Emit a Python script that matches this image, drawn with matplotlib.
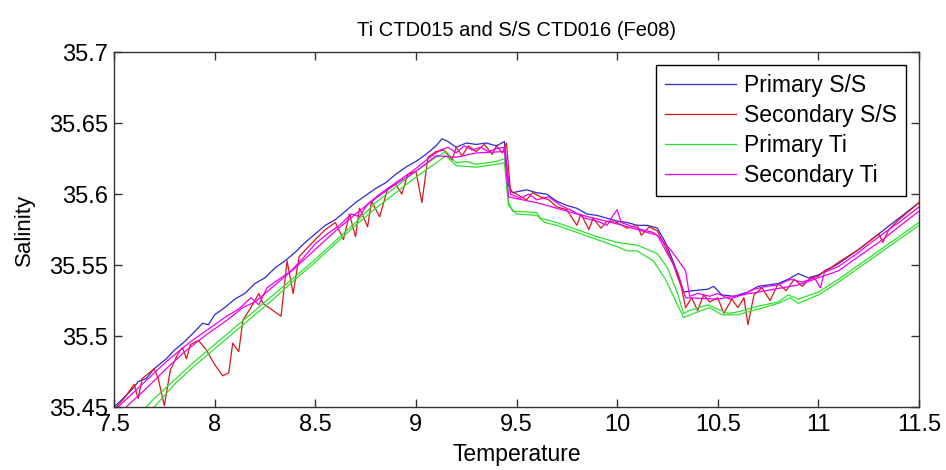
import matplotlib
matplotlib.use('Agg')
import matplotlib.pyplot as plt

# data: (temperature, salinity) pairs per trace
prim_ss = [(7.50, 35.450), (7.56, 35.458), (7.60, 35.464), (7.62, 35.468), (7.66, 35.470),
           (7.70, 35.477), (7.76, 35.484), (7.80, 35.490), (7.85, 35.496), (7.90, 35.503),
           (7.94, 35.509), (7.97, 35.508), (8.00, 35.515), (8.05, 35.520), (8.10, 35.526),
           (8.15, 35.530), (8.20, 35.537), (8.25, 35.541), (8.30, 35.548), (8.35, 35.553),
           (8.40, 35.559), (8.45, 35.566), (8.50, 35.572), (8.55, 35.578), (8.60, 35.582),
           (8.65, 35.588), (8.70, 35.594), (8.75, 35.599), (8.80, 35.604), (8.85, 35.608),
           (8.90, 35.614), (8.95, 35.619), (9.00, 35.623), (9.05, 35.628), (9.10, 35.634),
           (9.13, 35.639), (9.16, 35.637), (9.20, 35.633), (9.25, 35.636), (9.30, 35.635),
           (9.35, 35.636), (9.40, 35.634), (9.44, 35.637), (9.46, 35.606), (9.48, 35.601),
           (9.55, 35.603), (9.60, 35.601), (9.65, 35.600), (9.70, 35.595), (9.75, 35.592),
           (9.80, 35.590), (9.85, 35.586), (9.90, 35.585), (9.95, 35.583), (10.00, 35.581),
           (10.05, 35.580), (10.10, 35.578), (10.15, 35.578), (10.20, 35.576), (10.24, 35.566),
           (10.28, 35.552), (10.31, 35.540), (10.33, 35.531), (10.38, 35.532), (10.45, 35.533),
           (10.48, 35.535), (10.52, 35.529), (10.58, 35.528), (10.65, 35.531), (10.70, 35.535),
           (10.75, 35.536), (10.80, 35.537), (10.85, 35.540), (10.90, 35.544), (10.95, 35.541),
           (11.00, 35.543), (11.05, 35.547), (11.10, 35.551), (11.20, 35.561), (11.30, 35.572),
           (11.40, 35.583), (11.50, 35.594)]

sec_ss = [(7.50, 35.448), (7.55, 35.456), (7.60, 35.466), (7.62, 35.456), (7.64, 35.470),
          (7.70, 35.477), (7.72, 35.470), (7.75, 35.451), (7.78, 35.476), (7.82, 35.488),
          (7.84, 35.492), (7.86, 35.484), (7.88, 35.494), (7.92, 35.497), (7.96, 35.490),
          (8.00, 35.480), (8.04, 35.472), (8.07, 35.474), (8.09, 35.495), (8.12, 35.489),
          (8.14, 35.511), (8.18, 35.520), (8.22, 35.530), (8.24, 35.523), (8.28, 35.519),
          (8.33, 35.514), (8.36, 35.553), (8.39, 35.530), (8.42, 35.556), (8.46, 35.562),
          (8.50, 35.568), (8.55, 35.575), (8.60, 35.580), (8.64, 35.568), (8.67, 35.586),
          (8.70, 35.570), (8.72, 35.590), (8.76, 35.577), (8.78, 35.595), (8.82, 35.584),
          (8.86, 35.604), (8.90, 35.607), (8.93, 35.600), (8.96, 35.614), (9.00, 35.616),
          (9.03, 35.594), (9.06, 35.626), (9.10, 35.630), (9.14, 35.631), (9.18, 35.624),
          (9.20, 35.633), (9.23, 35.627), (9.26, 35.634), (9.30, 35.630), (9.34, 35.635),
          (9.38, 35.628), (9.40, 35.634), (9.43, 35.629), (9.45, 35.636), (9.47, 35.602),
          (9.50, 35.600), (9.55, 35.596), (9.58, 35.601), (9.62, 35.598), (9.66, 35.596),
          (9.70, 35.591), (9.75, 35.589), (9.80, 35.578), (9.82, 35.586), (9.86, 35.575),
          (9.88, 35.583), (9.92, 35.576), (9.95, 35.581), (10.00, 35.580), (10.05, 35.576),
          (10.10, 35.578), (10.12, 35.571), (10.16, 35.577), (10.20, 35.574), (10.24, 35.563),
          (10.28, 35.550), (10.32, 35.534), (10.34, 35.520), (10.37, 35.527), (10.40, 35.518),
          (10.43, 35.529), (10.46, 35.524), (10.50, 35.527), (10.53, 35.516), (10.57, 35.526),
          (10.60, 35.520), (10.63, 35.527), (10.65, 35.508), (10.68, 35.529), (10.72, 35.534),
          (10.76, 35.525), (10.80, 35.537), (10.84, 35.532), (10.88, 35.540), (10.92, 35.535),
          (10.96, 35.541), (11.00, 35.542), (11.03, 35.546), (11.06, 35.548), (11.10, 35.552),
          (11.20, 35.561), (11.30, 35.572), (11.32, 35.566), (11.35, 35.575), (11.40, 35.582),
          (11.50, 35.594)]

prim_ti = [(7.66, 35.450), (7.70, 35.456), (7.80, 35.469), (7.90, 35.482), (8.00, 35.494),
           (8.10, 35.506), (8.20, 35.518), (8.30, 35.530), (8.40, 35.542), (8.50, 35.554),
           (8.60, 35.567), (8.70, 35.580), (8.80, 35.594), (8.90, 35.605), (9.00, 35.616),
           (9.10, 35.626), (9.15, 35.630), (9.20, 35.622), (9.25, 35.623), (9.30, 35.621),
           (9.40, 35.623), (9.44, 35.625), (9.45, 35.617), (9.46, 35.595), (9.48, 35.588),
           (9.60, 35.587), (9.62, 35.583), (9.70, 35.580), (9.80, 35.575), (9.90, 35.570),
           (10.00, 35.566), (10.10, 35.564), (10.20, 35.558), (10.25, 35.548), (10.30, 35.530),
           (10.33, 35.516), (10.36, 35.518), (10.45, 35.522), (10.50, 35.519), (10.55, 35.516),
           (10.60, 35.517), (10.70, 35.521), (10.80, 35.524), (10.85, 35.529), (10.90, 35.526),
           (11.00, 35.531), (11.10, 35.540), (11.20, 35.550), (11.30, 35.560), (11.40, 35.570),
           (11.50, 35.580)]

prim_ti_2 = [(7.70, 35.450), (7.80, 35.466), (7.90, 35.479), (8.00, 35.491), (8.10, 35.503),
             (8.20, 35.515), (8.30, 35.527), (8.40, 35.540), (8.50, 35.552), (8.60, 35.565),
             (8.70, 35.578), (8.80, 35.590), (8.90, 35.601), (9.00, 35.612), (9.10, 35.622),
             (9.15, 35.627), (9.20, 35.620), (9.30, 35.619), (9.40, 35.621), (9.44, 35.622),
             (9.46, 35.592), (9.50, 35.586), (9.60, 35.585), (9.64, 35.580), (9.70, 35.578),
             (9.80, 35.573), (9.90, 35.568), (10.00, 35.563), (10.05, 35.560), (10.10, 35.560),
             (10.18, 35.553), (10.24, 35.540), (10.30, 35.522), (10.33, 35.513), (10.40, 35.517),
             (10.46, 35.520), (10.52, 35.515), (10.60, 35.515), (10.70, 35.519), (10.80, 35.523),
             (10.86, 35.527), (10.90, 35.523), (11.00, 35.529), (11.10, 35.538), (11.20, 35.548),
             (11.30, 35.558), (11.40, 35.568), (11.50, 35.578)]

sec_ti = [(7.52, 35.450), (7.58, 35.458), (7.64, 35.466), (7.70, 35.474), (7.76, 35.482),
          (7.82, 35.489), (7.88, 35.496), (7.94, 35.502), (8.00, 35.508), (8.06, 35.514),
          (8.12, 35.519), (8.18, 35.527), (8.22, 35.522), (8.26, 35.534), (8.32, 35.540),
          (8.38, 35.546), (8.44, 35.555), (8.50, 35.565), (8.56, 35.572), (8.62, 35.578),
          (8.68, 35.586), (8.72, 35.584), (8.76, 35.593), (8.82, 35.600), (8.88, 35.606),
          (8.94, 35.612), (9.00, 35.618), (9.06, 35.625), (9.12, 35.631), (9.16, 35.633),
          (9.20, 35.629), (9.24, 35.634), (9.28, 35.631), (9.32, 35.633), (9.36, 35.630),
          (9.40, 35.632), (9.44, 35.633), (9.46, 35.610), (9.47, 35.600), (9.52, 35.597),
          (9.56, 35.600), (9.60, 35.596), (9.66, 35.598), (9.72, 35.592), (9.78, 35.588),
          (9.84, 35.583), (9.90, 35.581), (9.95, 35.578), (9.98, 35.585), (10.00, 35.589),
          (10.02, 35.580), (10.08, 35.577), (10.12, 35.575), (10.18, 35.573), (10.22, 35.568),
          (10.27, 35.560), (10.31, 35.552), (10.34, 35.546), (10.36, 35.528), (10.40, 35.530),
          (10.46, 35.528), (10.50, 35.530), (10.56, 35.526), (10.62, 35.529), (10.68, 35.533),
          (10.74, 35.535), (10.80, 35.536), (10.86, 35.540), (10.92, 35.538), (10.98, 35.541),
          (11.01, 35.534), (11.03, 35.545), (11.10, 35.549), (11.20, 35.559), (11.30, 35.570),
          (11.40, 35.580), (11.50, 35.591)]

sec_ti_2 = [(7.56, 35.450), (7.66, 35.463), (7.76, 35.477), (7.86, 35.490), (7.96, 35.501),
            (8.06, 35.511), (8.14, 35.520), (8.20, 35.524), (8.30, 35.536), (8.40, 35.548),
            (8.50, 35.561), (8.60, 35.574), (8.70, 35.586), (8.80, 35.597), (8.90, 35.607),
            (9.00, 35.616), (9.10, 35.627), (9.20, 35.626), (9.30, 35.629), (9.44, 35.630),
            (9.46, 35.598), (9.60, 35.594), (9.80, 35.586), (10.00, 35.579), (10.20, 35.571),
            (10.30, 35.545), (10.34, 35.527), (10.50, 35.526), (10.70, 35.531), (10.90, 35.536),
            (11.10, 35.546), (11.30, 35.566), (11.50, 35.588)]

labels = ['Primary S/S', 'Secondary S/S', 'Primary Ti', 'Secondary Ti']
colors = ['#2a2ad0', '#d81818', '#2ee02e', '#ee00ee']

plt.rcParams['font.family'] = ['Liberation Sans', 'DejaVu Sans']

fig = plt.figure(figsize=(9.46, 4.70), dpi=100)
ax = fig.add_axes([0.1205, 0.134, 0.851, 0.755])

traces = [(prim_ss, 0), (sec_ss, 1), (prim_ti, 2), (prim_ti_2, 2), (sec_ti, 3), (sec_ti_2, 3)]
done = set()
for pts, k in traces:
    t, s = zip(*pts)
    lab = labels[k] if k not in done else None
    done.add(k)
    ax.plot(t, s, color=colors[k], lw=0.9, label=lab)

ax.set_xlim(7.5, 11.5)
ax.set_ylim(35.45, 35.7)
ax.set_xticks([7.5, 8, 8.5, 9, 9.5, 10, 10.5, 11, 11.5])
ax.set_xticklabels(['7.5', '8', '8.5', '9', '9.5', '10', '10.5', '11', '11.5'])
ax.set_yticks([35.45, 35.5, 35.55, 35.6, 35.65, 35.7])
ax.set_yticklabels(['35.45', '35.5', '35.55', '35.6', '35.65', '35.7'])
ax.tick_params(direction='in', length=6, width=1, top=True, right=True,
               labelsize=17, color='#333333')
ax.tick_params(axis='x', pad=5)
ax.tick_params(axis='y', pad=4)
for sp in ax.spines.values():
    sp.set_color('#333333')
    sp.set_linewidth(1)

ax.set_xlabel('Temperature', fontsize=16.5, labelpad=5)
ax.set_ylabel('Salinity', fontsize=16, labelpad=10)
ax.set_title('Ti CTD015 and S/S CTD016 (Fe08)', fontsize=14.5, pad=12)

leg = ax.legend(loc='upper right', fontsize=16.5, fancybox=False, framealpha=1,
                edgecolor='black', handlelength=3.1, handletextpad=0.35,
                borderpad=0.4, labelspacing=0.3, borderaxespad=0.55)
leg.get_frame().set_linewidth(1)

fig.savefig('out.png', dpi=100)
